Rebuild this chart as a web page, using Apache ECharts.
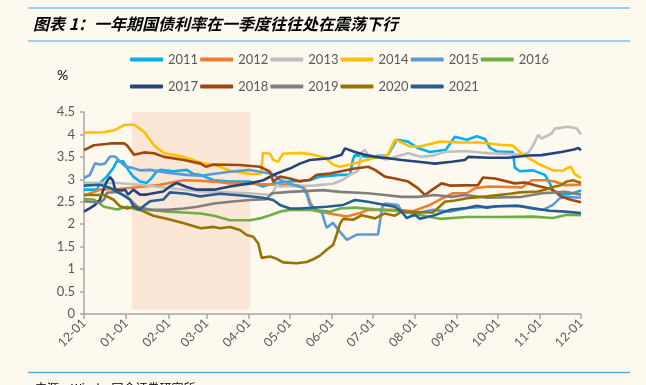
<!DOCTYPE html>
<html><head><meta charset="utf-8">
<script src="https://cdn.jsdelivr.net/npm/echarts@6/dist/echarts.min.js"></script>
<style>html,body{margin:0;padding:0;background:#fdf9ef;}#c{width:646px;height:385px;}</style>
</head><body><div id="c"></div>
<script>
// x positions are days since 12-01
const monthDays = [0,31,62,90,121,151,182,212,243,274,304,335,365];
const monthLabels = ['12-01','01-01','02-01','03-01','04-01','05-01','06-01','07-01','08-01','09-01','10-01','11-01','12-01'];
const years = ['2011','2012','2013','2014','2015','2016','2017','2018','2019','2020','2021'];
const colors = ['#00B0F0','#ED7D31','#BFBFBF','#FFC000','#5B9BD5','#70AD47','#264478','#9E480E','#7F7F7F','#997300','#255E91'];
const shadeRange = [35, 122];

const s2011 = [[0,2.77],[9.5,2.77],[11.7,2.92],[16.7,3.06],[21.5,3.25],[24,3.40],[28.9,3.40],[32.5,3.21],[36.2,3.06],[41.1,2.95],[46,2.92],[49.7,3.03],[53.4,3.18],[55.8,3.21],[65.6,3.18],[75.4,3.21],[80.2,3.12],[85.2,3.10],[95.4,2.98],[107.2,2.95],[121.9,2.95],[131.4,2.84],[138.8,2.91],[151.2,2.95],[165.9,2.98],[173.3,3.06],[188,3.10],[195.3,3.10],[197.5,3.44],[199,3.54],[208.5,3.50],[223.2,3.54],[229.6,3.88],[237.9,3.84],[245.2,3.70],[254,3.61],[265.8,3.66],[272.4,3.95],[281.2,3.88],[288.5,3.96],[294.4,3.90],[298.1,3.70],[303.2,3.62],[315,3.61],[316.4,3.26],[320.1,3.18],[329.7,3.20],[338.5,3.10],[342.1,2.91],[344.4,2.75],[351.7,2.66],[359,2.69],[365,2.75]];
const s2012 = [[0,2.64],[11.7,2.77],[26.4,2.79],[41.1,2.83],[55.8,2.88],[68.3,2.95],[73.4,2.98],[85.2,2.97],[95.4,2.95],[107.2,2.91],[131.4,2.89],[156.4,2.87],[160.8,2.84],[163.7,2.72],[165.9,2.50],[169.6,2.30],[178.2,2.25],[185.5,2.21],[192.9,2.17],[202.6,2.25],[208.7,2.32],[230.5,2.32],[241.6,2.29],[254,2.43],[261.4,2.55],[270.9,2.69],[281,2.69],[287.1,2.80],[296.6,2.84],[321.6,2.82],[328.9,2.98],[338.5,2.98],[345.8,2.95],[353.1,2.87],[365,2.88]];
const s2013 = [[0,2.92],[24.2,2.92],[41.1,2.88],[55.8,2.83],[70.5,2.78],[85.2,2.73],[95.4,2.72],[121.9,2.69],[137.8,2.65],[141.5,2.88],[143.9,2.84],[168.1,2.86],[182.8,2.90],[190.2,2.99],[195.3,3.10],[201.2,3.19],[204.1,3.61],[206.3,3.66],[208.7,3.54],[222.2,3.44],[233.3,3.54],[238.1,3.58],[247.9,3.50],[257.7,3.54],[265,3.61],[279.7,3.63],[296.8,3.58],[321.4,3.55],[326.2,3.59],[329.9,3.76],[333.6,3.99],[336,3.91],[343.4,4.02],[345.8,4.13],[355.6,4.17],[361.7,4.14],[365,4.00]];
const s2014 = [[0,4.04],[14.7,4.05],[22.8,4.10],[29.4,4.21],[36.7,4.22],[44.1,4.06],[51.4,3.76],[58.7,3.58],[73.4,3.50],[88.1,3.35],[95.4,3.33],[107.2,3.19],[121.9,3.12],[130,3.12],[131.4,3.59],[136.6,3.57],[138.8,3.44],[142.4,3.39],[146.1,3.57],[158.6,3.59],[168.1,3.55],[176.9,3.48],[182.8,3.33],[188,3.28],[195.3,3.33],[202.6,3.39],[213.7,3.48],[223.2,3.55],[228.3,3.88],[232,3.84],[239.4,3.73],[246.7,3.73],[261.4,3.84],[276.1,3.82],[290.7,3.82],[305.4,3.77],[315,3.75],[322.3,3.55],[334.8,3.33],[344.4,3.20],[351.7,3.19],[355.4,3.26],[357.6,3.28],[360.5,3.11],[365,3.03]];
const s2015 = [[0,3.03],[4.4,3.10],[8.1,3.36],[11.7,3.33],[15.4,3.35],[19.1,3.51],[22.8,3.51],[26.4,3.40],[30.1,3.29],[36.2,3.25],[41.1,3.20],[48.5,3.21],[60.7,3.15],[75.4,3.10],[85.2,3.08],[107.2,3.17],[121.9,3.21],[129.2,3.17],[138.8,3.12],[143.9,2.99],[151.2,2.90],[160.8,2.81],[163.7,2.66],[165.9,2.43],[174.7,2.26],[178.2,1.92],[182.8,2.03],[188,1.83],[193.1,1.65],[200.4,1.77],[215.9,1.77],[218.9,2.37],[221,2.46],[230.5,2.43],[233.5,2.28],[243,2.24],[256.2,2.32],[268.7,2.28],[281.2,2.36],[305.4,2.40],[320.1,2.41],[329.7,2.36],[337,2.32],[344.4,2.43],[349.5,2.58],[354.6,2.61],[365,2.59]];
const s2016 = [[0,2.56],[7.3,2.55],[14.7,2.39],[24.4,2.33],[31.8,2.39],[39.1,2.32],[49,2.32],[61.2,2.28],[73.4,2.26],[85.7,2.24],[95.4,2.19],[107.2,2.09],[121.9,2.09],[129.2,2.13],[136.6,2.20],[143.9,2.28],[151.2,2.32],[165.9,2.32],[180.6,2.28],[188,2.35],[199,2.37],[213.7,2.33],[233.3,2.29],[247.9,2.20],[261.4,2.12],[281.2,2.16],[305.4,2.16],[329.7,2.17],[344.4,2.14],[354.6,2.21],[365,2.20]];
const s2017 = [[0,2.28],[4.4,2.36],[8.1,2.43],[11.7,2.55],[14.2,2.77],[16.7,2.95],[19.1,3.05],[21.3,2.97],[22.8,2.77],[27.7,2.75],[30.1,2.77],[32.5,2.66],[36.2,2.77],[41.1,2.66],[46,2.66],[50.9,2.69],[58.2,2.73],[63.1,2.84],[68.1,2.92],[75.4,2.83],[82.7,2.77],[95.4,2.77],[107.2,2.84],[121.9,2.91],[131.6,2.98],[141.5,3.13],[151.2,3.24],[158.6,3.35],[165.9,3.43],[180.6,3.47],[189.2,3.55],[191.6,3.69],[199,3.61],[206.3,3.55],[213.7,3.50],[223.4,3.47],[233.3,3.43],[245.5,3.39],[257.7,3.35],[270,3.39],[279.7,3.43],[282.2,3.50],[296.8,3.48],[311.5,3.48],[326.2,3.53],[336,3.54],[350.7,3.61],[360.5,3.67],[363,3.70],[365,3.65]];
const s2018 = [[0,3.65],[7.3,3.76],[19.6,3.80],[29.4,3.80],[31.8,3.75],[36.7,3.55],[44.1,3.60],[51.4,3.58],[58.7,3.50],[73.4,3.43],[85.7,3.35],[89.4,3.28],[95.4,3.33],[114.5,3.32],[129.2,3.28],[136.6,3.17],[139,2.95],[143.9,3.06],[151.2,3.02],[158.6,2.95],[165.9,2.99],[170.9,3.10],[180.6,3.13],[199,3.24],[208.7,3.28],[213.7,3.21],[221,3.06],[228.3,3.02],[238.1,2.95],[245.4,2.80],[250.4,2.65],[255.3,2.76],[262.6,2.91],[268.7,2.86],[289.3,2.87],[293,3.04],[301.8,3.02],[316.4,2.91],[323.8,2.93],[331.1,2.87],[343.4,2.78],[350.7,2.61],[358.1,2.54],[365,2.49]];
const s2019 = [[0,2.51],[11.7,2.48],[14.7,2.55],[16.9,2.70],[24.4,2.72],[31.8,2.61],[39.1,2.39],[49,2.32],[61.2,2.32],[73.4,2.35],[83.2,2.39],[95.4,2.46],[107.2,2.50],[121.9,2.54],[134.1,2.56],[137.8,2.69],[151.2,2.72],[175.7,2.76],[188,2.72],[208.5,2.69],[221,2.65],[233.3,2.61],[245.2,2.61],[257.7,2.65],[270.2,2.61],[279.7,2.65],[296.6,2.59],[321.6,2.61],[336.3,2.69],[353.2,2.72],[365,2.66]];
const s2020 = [[0,2.65],[14.7,2.65],[21.5,2.55],[26.4,2.40],[31.8,2.35],[36.7,2.39],[44.1,2.28],[50.9,2.19],[60.7,2.12],[73.4,2.02],[85.7,1.91],[95.4,1.94],[99.9,1.91],[107.2,1.94],[114.5,1.87],[119.5,1.76],[124.3,1.72],[128,1.57],[130.5,1.25],[136.6,1.28],[141.5,1.23],[146.3,1.15],[156.2,1.13],[163.5,1.16],[168.4,1.22],[173.3,1.30],[178.2,1.43],[183,1.54],[185.5,1.77],[188,2.01],[190.4,2.12],[197.7,2.10],[203.9,2.20],[213.7,2.13],[221,2.24],[228.3,2.19],[233.3,2.28],[243,2.27],[256.2,2.26],[261.4,2.40],[265,2.50],[272.4,2.53],[281.2,2.58],[295.9,2.62],[312.8,2.68],[320.1,2.71],[333.3,2.73],[339.9,2.78],[345.8,2.84],[349.5,2.86],[354.4,2.95],[359.3,2.98],[365,2.92]];
const s2021 = [[0,2.86],[11.7,2.88],[19.1,2.81],[26.4,2.69],[33.8,2.55],[36.2,2.40],[41.1,2.32],[43.5,2.40],[48.5,2.51],[58.2,2.55],[63.1,2.71],[75.4,2.68],[85.2,2.62],[99.9,2.68],[119.5,2.63],[131.4,2.59],[138.8,2.54],[143.9,2.43],[151.2,2.35],[158.6,2.35],[178.2,2.39],[190.4,2.43],[199,2.54],[208.5,2.50],[221,2.43],[228.3,2.39],[233.3,2.28],[236.9,2.14],[243,2.21],[246.7,2.12],[256.2,2.19],[268.7,2.32],[281.2,2.36],[288.5,2.41],[295.9,2.37],[303.2,2.40],[317.9,2.41],[329.7,2.35],[342.1,2.30],[353.1,2.28],[365,2.25]];
const allData = [s2011,s2012,s2013,s2014,s2015,s2016,s2017,s2018,s2019,s2020,s2021];

const chart = echarts.init(document.getElementById('c'), null, {renderer:'canvas'});
const FONT = 'Lato';
const series = years.map((y,i)=>({
  name: y, type:'line', data: allData[i], showSymbol:false, symbol:'none',
  lineStyle:{width:2.6,color:colors[i]}, itemStyle:{color:colors[i]}, z:3, animation:false
}));
series.unshift({
  name:'shade', type:'line', data:[], z:1, silent:true,
  markArea:{silent:true, itemStyle:{color:'#fce6d6'}, data:[[{xAxis:shadeRange[0], yAxis:0.1},{xAxis:shadeRange[1], yAxis:4.57}]]}
});
const legendCommon = {
  icon:'roundRect', itemWidth:33, itemHeight:4, itemGap:2, left:125,
  textStyle:{color:'#595959', fontSize:13, fontFamily:FONT, width:30}
};
chart.setOption({
  animation:false,
  backgroundColor:'#fdf9ef',
  title:[
    {text:'图表 1：一年期国债利率在一季度往往处在震荡下行', left:28, top:11,
     textStyle:{fontSize:16, fontWeight:'bold', fontStyle:'italic', color:'#000', fontFamily:'Noto Sans CJK SC'}},
    {text:'%', left:52, top:63, textStyle:{fontSize:14, fontWeight:'normal', color:'#000', fontFamily:FONT}},
    {text:'来源：Wind，国金证券研究所', left:30, top:377, textStyle:{fontSize:12, fontWeight:'normal', color:'#000', fontFamily:'Noto Sans CJK SC'}}
  ],
  graphic:[
    {type:'line', shape:{x1:28,y1:8,x2:630,y2:8}, style:{stroke:'#7cc3e8', lineWidth:1.5}},
    {type:'line', shape:{x1:28,y1:41,x2:630,y2:41}, style:{stroke:'#7cc3e8', lineWidth:1.5}},
    {type:'line', shape:{x1:28,y1:372.5,x2:630,y2:372.5}, style:{stroke:'#5bb0df', lineWidth:1.5}}
  ],
  legend:[
    Object.assign({}, legendCommon, {top:48, data:years.slice(0,6)}),
    Object.assign({}, legendCommon, {top:75, data:years.slice(6)})
  ],
  grid:{left:84, right:65, top:112, bottom:71},
  xAxis:{
    type:'value', min:0, max:365,
    axisLine:{lineStyle:{color:'#a6a6a6', width:1.5}},
    axisTick:{show:true, length:5, inside:false, customValues:monthDays, lineStyle:{color:'#a6a6a6', width:1.5}},
    axisLabel:{customValues:monthDays, rotate:45, margin:7, color:'#595959', fontSize:12.5, fontFamily:FONT,
      formatter:(v)=>{const k=monthDays.indexOf(Math.round(v)); return k>=0?monthLabels[k]:'';}},
    splitLine:{show:false}
  },
  yAxis:{
    type:'value', min:0, max:4.5, interval:0.5,
    axisLine:{show:true, lineStyle:{color:'#a6a6a6', width:1.5}},
    axisTick:{show:true, length:4, lineStyle:{color:'#a6a6a6', width:1.5}},
    axisLabel:{color:'#595959', fontSize:13, fontFamily:FONT, margin:9},
    splitLine:{show:false}
  },
  series: series
});
</script></body></html>
